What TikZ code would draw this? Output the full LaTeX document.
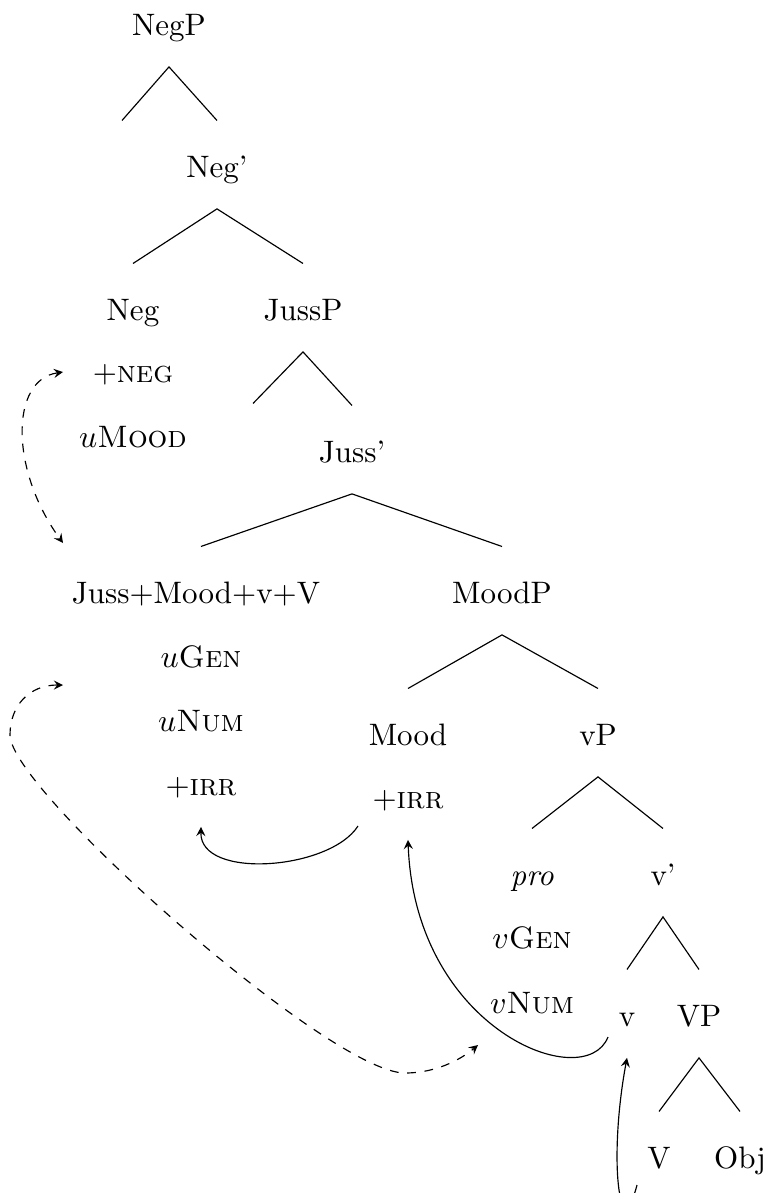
\documentclass[tikz,border=0pt]{standalone}
\usepackage{amsmath}
\usetikzlibrary{calc}

\begin{document}
\begin{tikzpicture}[x=0.345pt,y=-0.345pt,
	lbl/.style={anchor=base,inner sep=0pt,text height=19.3pt,text depth=10.8pt,font=\fontsize{10.7}{12}\selectfont},
	mv/.style={->,>=stealth},
	agr/.style={<->,>=stealth,dashed}]
	\useasboundingbox (0,0) rectangle (769,1193);

	\node[lbl] (negp) at (169,35) {NegP};
	\node[lbl] (negspec) at (122,177) {};
	\node[lbl] (negbar) at (217,177) {Neg'};

	\node[lbl] (neg) at (133,320) {Neg};
	\node[lbl] (jussp) at (303,320) {JussP};
	\node[lbl] (plusneg) at (133,382) {+\textsc{neg}};
	\node[lbl] (umood) at (133,447) {$u$\textsc{Mood}};

	\node[lbl] (jussspec) at (253,460) {};
	\node[lbl] (jussbar) at (352,462) {Juss'};

	\node[lbl] (jmvv) at (196,603) {Juss+Mood+v+V};
	\node[lbl] (moodp) at (502,603) {MoodP};
	\node[lbl] (ugen) at (201,667) {$u$\textsc{Gen}};
	\node[lbl] (unum) at (201,731) {$u$\textsc{Num}};
	\node[lbl] (irrjuss) at (201,795) {+\textsc{irr}};

	\node[lbl] (mood) at (408,745) {Mood};
	\node[lbl] (vp) at (598,745) {vP};
	\node[lbl] (irrmood) at (408,808) {+\textsc{irr}};

	\node[lbl] (pro) at (532,885) {\textit{pro}};
	\node[lbl] (vbar) at (663,885) {v'};
	\node[lbl] (vgen) at (532,948) {$v$\textsc{Gen}};
	\node[lbl] (vnum) at (532,1013) {$v$\textsc{Num}};

	\node[lbl] (v) at (627,1026) {v};
	\node[lbl] (vpp) at (699,1026) {VP};
	\node[lbl] (verb) at (659,1168) {V};
	\node[lbl] (obj) at (740,1168) {Obj};

	\draw (negspec.north) -- (negp.south) -- (negbar.north);
	\draw (neg.north) -- (negbar.south) -- (jussp.north);
	\draw (jussspec.north) -- (jussp.south) -- (jussbar.north);
	\draw ([xshift=1.7pt]jmvv.north) -- (jussbar.south) -- (moodp.north);
	\draw (mood.north) -- (moodp.south) -- (vp.north);
	\draw (pro.north) -- (vp.south) -- (vbar.north);
	\draw (v.north) -- (vbar.south) -- (vpp.north);
	\draw (verb.north) -- (vpp.south) -- (obj.north);

	\draw[agr] ($(plusneg.base)+(-70,-10)$) .. controls (10,380) and (10,470) .. ($(jmvv.base)+(-133,-60)$);
	\draw[agr] ($(ugen.base)+(-138,18)$) .. controls (30,685) and (10,705) .. (10,735) .. controls (10,790) and (330,1073) .. (405,1073) .. controls (440,1073) and (465,1056) .. ($(vnum.base)+(-54,32)$);

	\draw[mv] ($(irrmood.base)+(-50,18)$) .. controls (330,870) and (200,880) .. (irrjuss.south);
	\draw[mv] ($(v.base)+(-19,11)$) .. controls (585,1095) and (415,1030) .. (irrmood.south);
	\draw[mv] ($(verb.base)+(-22,17)$) .. controls (620,1250) and (608,1160) .. (v.south);

\end{tikzpicture}
\end{document}
